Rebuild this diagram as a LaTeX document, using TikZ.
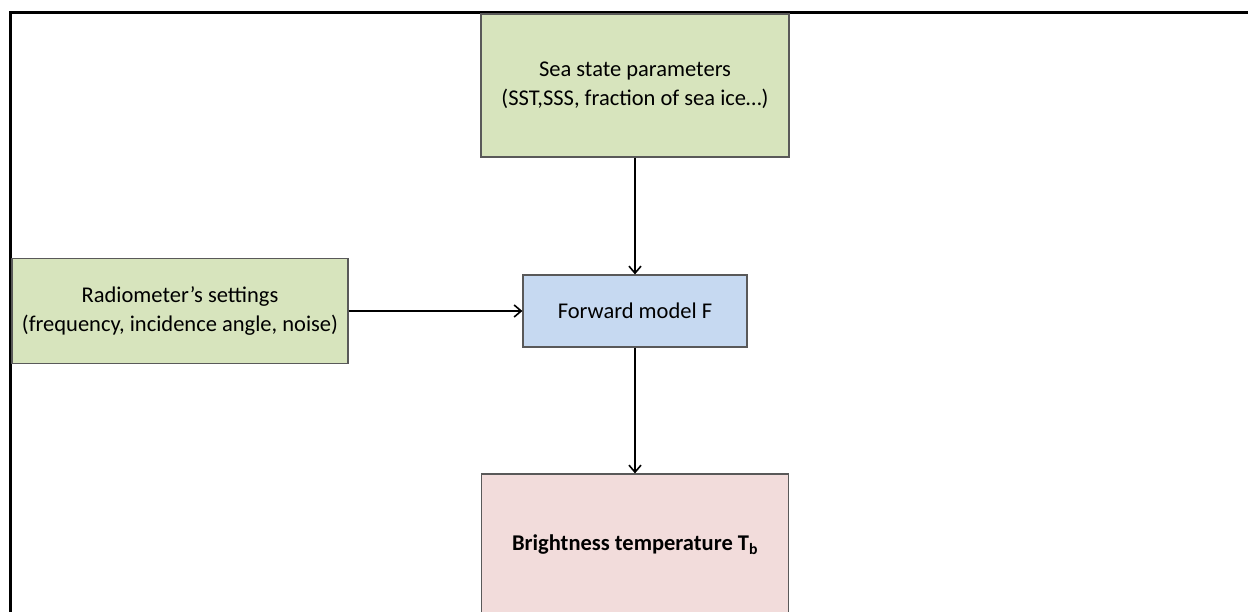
\documentclass[tikz,border=0pt]{standalone}
\usepackage{fontspec}
\setmainfont{Carlito}
\usetikzlibrary{arrows.meta}
\definecolor{greenfill}{HTML}{D7E4BD}
\definecolor{bluefill}{HTML}{C6D9F1}
\definecolor{pinkfill}{HTML}{F2DCDB}
\definecolor{boxline}{HTML}{595959}
\begin{document}
\begin{tikzpicture}[x=1pt,y=-1pt,
  box/.style={draw=boxline, line width=1.2pt, inner sep=0pt, align=center,
    font=\fontsize{22.5}{28.5}\selectfont},
  link/.style={line width=1.8pt, -{Straight Barb[length=7pt,width=12pt,line width=1.6pt]}}]
\useasboundingbox (0,0) rectangle (1248,612);
\clip (0,0) rectangle (1248,612);
% page frame along the left and top edges
\draw[line width=3pt] (10,620) -- (10,12.5) -- (1260,12.5);
% blocks
\node[box, fill=greenfill, minimum width=308pt, minimum height=143pt] (sea) at (635,85.5)
  {Sea state parameters\\(SST,SSS, fraction of sea ice…)};
\node[box, fill=greenfill, minimum width=336pt, minimum height=105pt] (radio) at (180,311)
  {Radiometer’s settings\\(frequency, incidence angle, noise)};
\node[box, fill=bluefill, minimum width=224pt, minimum height=72pt] (fwd) at (635,311)
  {Forward model F};
\node[box, fill=pinkfill, minimum width=307pt, minimum height=142pt] (tb) at (635,545)
  {\textbf{Brightness temperature T\textsubscript{b}}};
% connectors
\draw[link] (sea) -- (fwd);
\draw[link] (radio) -- (fwd);
\draw[link] (fwd) -- (tb);
\end{tikzpicture}
\end{document}
